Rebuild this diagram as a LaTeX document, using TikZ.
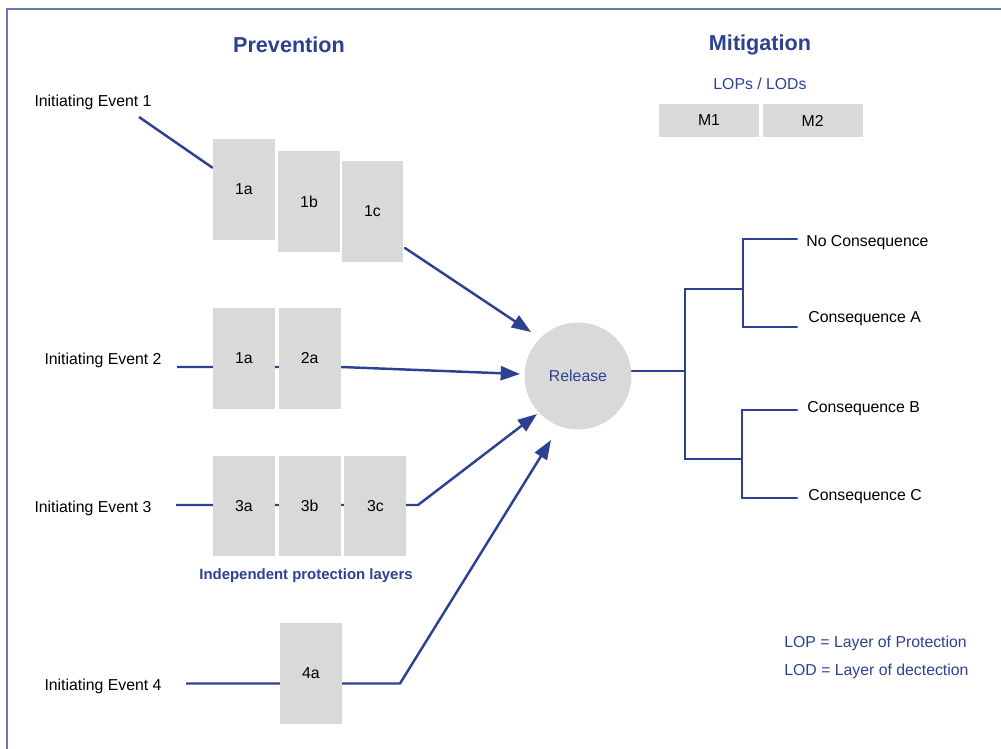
\documentclass[tikz,border=0pt]{standalone}
\usepackage{fontspec}
\setmainfont{Liberation Sans}
\usetikzlibrary{arrows.meta}
\usetikzlibrary{backgrounds}
\usetikzlibrary{positioning}
\definecolor{lineblue}{RGB}{46,64,146}
\definecolor{boxgray}{RGB}{217,217,217}
\definecolor{framecol}{RGB}{112,122,178}
\tikzset{>={Triangle[length=11pt,width=8pt]},
  flow/.style={draw=lineblue, line width=1.4pt},
  frame/.style={draw=framecol, line width=0.8pt},
  layer/.style={fill=boxgray, minimum width=1.24cm, minimum height=2.02cm,
    inner sep=0pt, font=\fontsize{9}{11}\selectfont},
  mbox/.style={minimum width=2cm, minimum height=0.66cm},
  event/.style={inner sep=0pt, font=\fontsize{9}{11}\selectfont},
  head/.style={inner sep=0pt, text=lineblue, font=\fontsize{12.3}{14}\selectfont\bfseries},
  note/.style={inner sep=0pt, text=lineblue, font=\fontsize{9}{11}\selectfont},
  release/.style={circle, fill=boxgray, minimum size=2.14cm, inner sep=0pt,
    text=lineblue, font=\fontsize{9}{11}\selectfont}}

\begin{document}
\begin{tikzpicture}[x=0.02cm, y=-0.02cm, line cap=round]
    \useasboundingbox (0,0) rectangle (1001,749);

    \draw[frame] (7,749) -- (7,9) -- (1001,9);

    % titles
    \node[head] (prev) at (289,45) {Prevention};
    \node[head] (miti) at (760,45) {Mitigation};
    \node[note] (lops) at (760,84) {LOPs / LODs};
    \node[layer, mbox] (m1) at (709,120.5) {M1};
    \node[layer, mbox, right=0.06cm of m1] (m2) {M2};

    % initiating events
    \node[event] (ie1) at (93,102) {Initiating Event 1};
    \node[event] (ie2) at (103,360) {Initiating Event 2};
    \node[event] (ie3) at (93,508) {Initiating Event 3};
    \node[event] (ie4) at (103,686) {Initiating Event 4};

    % protection layers
    \node[layer] (l1a) at (244,189.5) {1a};
    \node[layer] (l1b) at (309,201.5) {1b};
    \node[layer] (l1c) at (372.5,211.5) {1c};

    \node[layer] (l2a) at (244,358.5) {1a};
    \node[layer, right=0.06cm of l2a] (l2b) {2a};

    \node[layer] (l3a) at (244,506) {3a};
    \node[layer, right=0.06cm of l3a] (l3b) {3b};
    \node[layer, right=0.06cm of l3b] (l3c) {3c};

    \node[layer] (l4a) at (311,673.5) {4a};

    \node[inner sep=0pt, text=lineblue, font=\fontsize{8.5}{10}\selectfont\bfseries]
      (ipl) at (306,576) {Independent protection layers};

    \node[release] (rel) at (578,376) {Release};

    % free ends
    \coordinate (s1) at (139,117);
    \coordinate (s2) at (177,367);
    \coordinate (s3) at (176,505);
    \coordinate (s4) at (186,683.5);
    \coordinate (o1) at (405,248);
    \coordinate (o3) at (418,505);
    \coordinate (o4) at (400,683.5);
    \coordinate (t1) at (531,332);
    \coordinate (t2) at (520,374);
    \coordinate (t3) at (537,414);
    \coordinate (t4) at (551,440);

    \begin{pgfonlayer}{background}
    \draw[flow] (s1) -- (l1a);
    \draw[flow, ->] (s2) -- (s2 -| l2b.east) -- (t2);
    \draw[flow, ->] (s3) -- (o3) -- (t3);
    \draw[flow, ->] (s4) -- (o4) -- (t4);
    \end{pgfonlayer}
    \draw[flow, ->] (o1) -- (t1);

    % consequences
    \node[event, anchor=west] (c0) at (806,243) {No Consequence};
    \node[event, anchor=west] (c1) at (808,319) {Consequence A};
    \node[event, anchor=west] (c2) at (807,409) {Consequence B};
    \node[event, anchor=west] (c3) at (808,497) {Consequence C};

    \coordinate (j0) at (685,371);
    \coordinate (j1) at (743,289);
    \coordinate (j2) at (742,459);
    \coordinate (k0) at (797,239);
    \coordinate (k1) at (797,327);
    \coordinate (k2) at (797,410);
    \coordinate (k3) at (797,498);

    \draw[flow] (rel.east |- j0) -- (j0);
    \draw[flow] (j1) -| (j0) |- (j2);
    \draw[flow] (k0) -| (j1) |- (k1);
    \draw[flow] (k2) -| (j2) |- (k3);

    % legend
    \node[note, anchor=west] (lop) at (784,643) {LOP = Layer of Protection};
    \node[note, anchor=west] (lod) at (784,671) {LOD = Layer of dectection};

\end{tikzpicture}
\end{document}
